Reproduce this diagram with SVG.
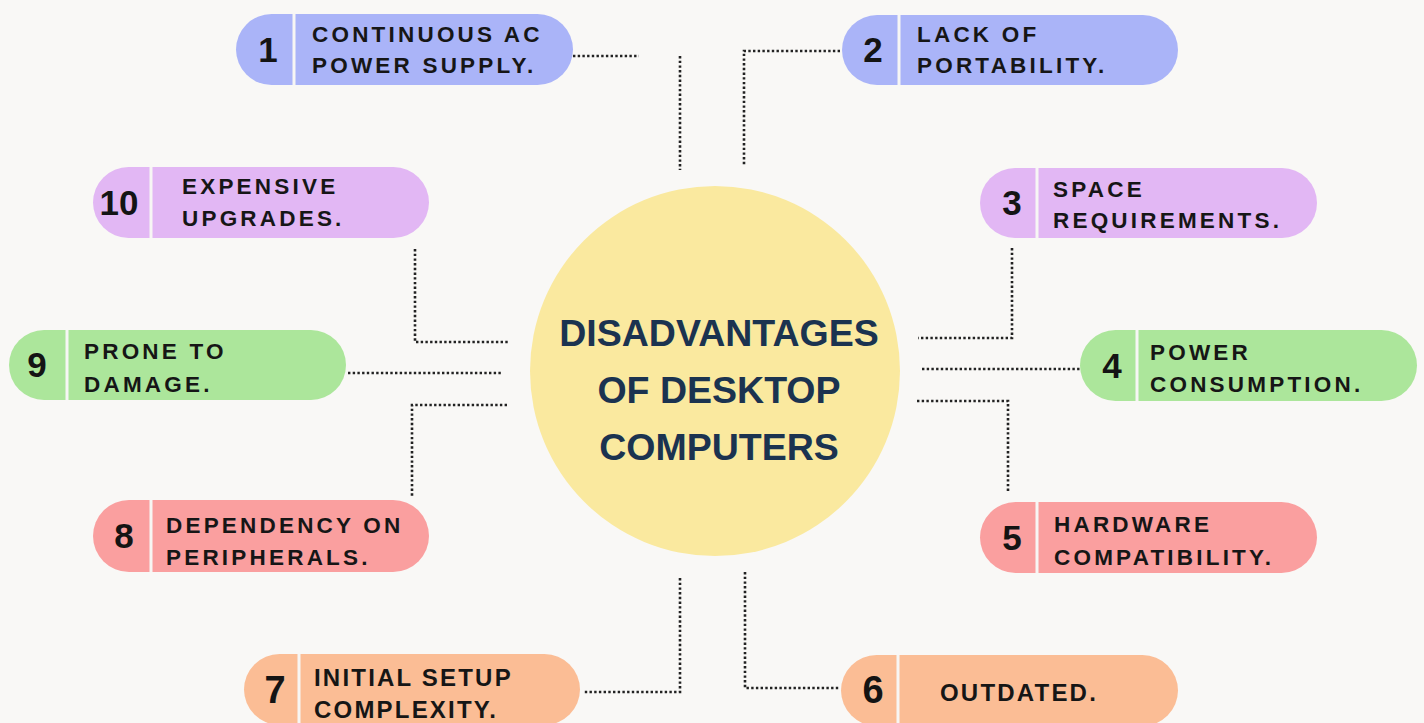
<svg xmlns="http://www.w3.org/2000/svg" width="1424" height="723" viewBox="0 0 1424 723">
  <style>
    .bg { fill: #f9f8f6; }
    .hub { fill: #fae99f; }
    .title { font-family: "Liberation Sans", Arial, sans-serif; font-weight: bold; font-size: 37.5px; fill: #1b3350; text-anchor: middle; }
    .divider { stroke: #f7f6f4; stroke-width: 3; }
    .num { font-family: "Liberation Sans", Arial, sans-serif; font-weight: bold; font-size: 35px; fill: #141414; text-anchor: middle; }
    .lbl { font-family: "Liberation Sans", Arial, sans-serif; font-weight: bold; font-size: 22.5px; letter-spacing: 3.2px; fill: #161616; }
    .lbl-c { font-family: "Liberation Sans", Arial, sans-serif; font-weight: bold; font-size: 24px; letter-spacing: 2.2px; fill: #161616; }
    .num-c { font-family: "Liberation Sans", Arial, sans-serif; font-weight: bold; font-size: 38px; fill: #141414; text-anchor: middle; }
    .blue { fill: #aab4f8; }
    .purple { fill: #e2b7f4; }
    .green { fill: #ace69b; }
    .pink { fill: #fa9f9f; }
    .orange { fill: #fbbd95; }
    .dots { fill: none; stroke: #222; stroke-width: 2.6; stroke-dasharray: 2.4 2.3; }
  </style>

  <rect class="bg" x="0" y="0" width="1424" height="723"/>

  <!-- dotted connectors between the hub and each item -->
  <g id="connectors">
    <path class="dots" d="M573 56 H639"/>
    <path class="dots" d="M680 56 V170"/>
    <path class="dots" d="M840 51 H744 V165"/>
    <path class="dots" d="M415 249 V342 H508"/>
    <path class="dots" d="M348 373 H503"/>
    <path class="dots" d="M507 405 H412 V496"/>
    <path class="dots" d="M1012 248 V338 H918"/>
    <path class="dots" d="M922 369 H1080"/>
    <path class="dots" d="M917 401 H1008 V493"/>
    <path class="dots" d="M680 578 V692 H583"/>
    <path class="dots" d="M745 572 V688 H840"/>
  </g>

  <!-- central hub -->
  <g id="hub">
    <circle class="hub" cx="715" cy="371" r="185"/>
    <text class="title" x="719" y="346">DISADVANTAGES</text>
    <text class="title" x="719" y="403">OF DESKTOP</text>
    <text class="title" x="719" y="460">COMPUTERS</text>
  </g>

  <g id="item-1">
    <rect class="blue" x="236" y="14" width="337" height="71" rx="35.5"/>
    <line class="divider" x1="294" y1="14" x2="294" y2="85"/>
    <text class="num" x="268" y="62">1</text>
    <text class="lbl" x="312" y="42">CONTINUOUS AC</text>
    <text class="lbl" x="312" y="73">POWER SUPPLY.</text>
  </g>

  <g id="item-2">
    <rect class="blue" x="842" y="15" width="336" height="70" rx="35"/>
    <line class="divider" x1="899" y1="15" x2="899" y2="85"/>
    <text class="num" x="873" y="62">2</text>
    <text class="lbl" x="917" y="42">LACK OF</text>
    <text class="lbl" x="917" y="73">PORTABILITY.</text>
  </g>

  <g id="item-3">
    <rect class="purple" x="980" y="168" width="337" height="70" rx="35"/>
    <line class="divider" x1="1037" y1="168" x2="1037" y2="238"/>
    <text class="num" x="1012" y="215">3</text>
    <text class="lbl" x="1053" y="197">SPACE</text>
    <text class="lbl" x="1053" y="228">REQUIREMENTS.</text>
  </g>

  <g id="item-4">
    <rect class="green" x="1080" y="330" width="337" height="71" rx="35.5"/>
    <line class="divider" x1="1137" y1="330" x2="1137" y2="401"/>
    <text class="num" x="1112" y="378">4</text>
    <text class="lbl" x="1150" y="360">POWER</text>
    <text class="lbl" x="1150" y="392">CONSUMPTION.</text>
  </g>

  <g id="item-5">
    <rect class="pink" x="980" y="502" width="337" height="71" rx="35.5"/>
    <line class="divider" x1="1037" y1="502" x2="1037" y2="573"/>
    <text class="num" x="1012" y="550">5</text>
    <text class="lbl" x="1054" y="532">HARDWARE</text>
    <text class="lbl" x="1054" y="565">COMPATIBILITY.</text>
  </g>

  <g id="item-6">
    <rect class="orange" x="841" y="655" width="337" height="71" rx="35.5"/>
    <line class="divider" x1="898" y1="655" x2="898" y2="726"/>
    <text class="num-c" x="873" y="703">6</text>
    <text class="lbl-c" x="1019" y="701" text-anchor="middle">OUTDATED.</text>
  </g>

  <g id="item-7">
    <rect class="orange" x="244" y="654" width="336" height="71" rx="35.5"/>
    <line class="divider" x1="299" y1="654" x2="299" y2="725"/>
    <text class="num-c" x="275" y="703">7</text>
    <text class="lbl-c" x="314" y="686">INITIAL SETUP</text>
    <text class="lbl-c" x="314" y="718">COMPLEXITY.</text>
  </g>

  <g id="item-8">
    <rect class="pink" x="93" y="500" width="336" height="72" rx="36"/>
    <line class="divider" x1="151" y1="500" x2="151" y2="572"/>
    <text class="num" x="124" y="548">8</text>
    <text class="lbl" x="166" y="533">DEPENDENCY ON</text>
    <text class="lbl" x="166" y="565">PERIPHERALS.</text>
  </g>

  <g id="item-9">
    <rect class="green" x="9" y="330" width="337" height="70" rx="35"/>
    <line class="divider" x1="67" y1="330" x2="67" y2="400"/>
    <text class="num" x="37" y="377">9</text>
    <text class="lbl" x="84" y="359">PRONE TO</text>
    <text class="lbl" x="84" y="392">DAMAGE.</text>
  </g>

  <g id="item-10">
    <rect class="purple" x="93" y="167" width="336" height="71" rx="35.5"/>
    <line class="divider" x1="151" y1="167" x2="151" y2="238"/>
    <text class="num" x="119" y="215">10</text>
    <text class="lbl" x="182" y="194">EXPENSIVE</text>
    <text class="lbl" x="182" y="226">UPGRADES.</text>
  </g>
</svg>
